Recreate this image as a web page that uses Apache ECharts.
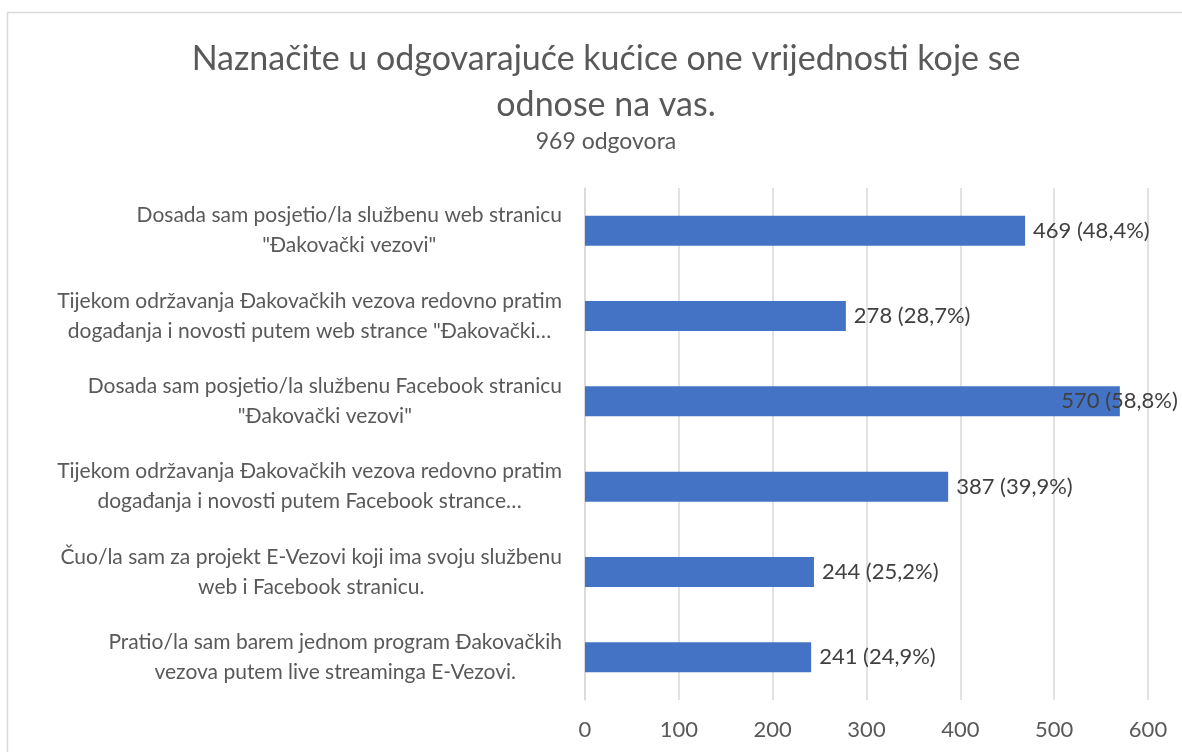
<!DOCTYPE html>
<html>
<head>
<meta charset="utf-8">
<script src="https://cdn.jsdelivr.net/npm/echarts@6/dist/echarts.min.js"></script>
<style>
  html, body { margin: 0; padding: 0; background: #fff; }
  #chart { width: 1182px; height: 752px; }
</style>
</head>
<body>
<div id="chart"></div>
<script>
// odgovori, odozgo prema dolje
const categories = [
    'Dosada sam posjetio/la službenu web stranicu\n"Đakovački vezovi"',
    'Tijekom održavanja Đakovačkih vezova redovno pratim\ndogađanja i novosti putem web strance "Đakovački…',
    'Dosada sam posjetio/la službenu Facebook stranicu\n"Đakovački vezovi"',
    'Tijekom održavanja Đakovačkih vezova redovno pratim\ndogađanja i novosti putem Facebook strance…',
    'Čuo/la sam za projekt E-Vezovi koji ima svoju službenu\nweb i Facebook stranicu.',
    'Pratio/la sam barem jednom program Đakovačkih\nvezova putem live streaminga E-Vezovi.'
];
const counts = [469, 278, 570, 387, 244, 241];
const percents = ['48,4%', '28,7%', '58,8%', '39,9%', '25,2%', '24,9%'];
const xTicks = [0, 100, 200, 300, 400, 500, 600];

const font = 'Lato, "Noto Sans", sans-serif';
const chart = echarts.init(document.getElementById('chart'));

// najduži stupac - oznaka ne stane desno pa ulazi u stupac
const barData = counts.map((v, i) => i === 2
    ? { value: v, label: { position: 'insideRight', distance: -58 } }
    : v);

const option = {
    backgroundColor: '#fff',
    animation: false,
    title: {
        text: 'Naznačite u odgovarajuće kućice one vrijednosti koje se\nodnose na vas.',
        subtext: '969 odgovora',
        left: 601,
        top: 31,
        textAlign: 'center',
        itemGap: 2,
        textStyle: { fontFamily: font, fontSize: 34, fontWeight: 'normal', color: '#595959', lineHeight: 46 },
        subtextStyle: { fontFamily: font, fontSize: 23, color: '#595959', lineHeight: 24 }
    },
    graphic: [{
        type: 'rect',
        shape: { x: 7.5, y: 12.5, width: 1200, height: 800 },
        style: { fill: 'none', stroke: '#d9d9d9', lineWidth: 1.5 },
        silent: true
    }],
    grid: { left: 585, right: 34, top: 188, bottom: 52, containLabel: false },
    xAxis: {
        type: 'value',
        min: 0,
        max: 600,
        interval: 100,
        axisLine: { show: false },
        axisTick: { show: false },
        splitLine: { lineStyle: { color: '#d9d9d9', width: 1.5 } },
        axisLabel: {
            margin: 19,
            fontFamily: font,
            fontSize: 22,
            color: '#595959',
            formatter: v => xTicks.includes(v) ? String(v) : ''
        }
    },
    yAxis: {
        type: 'category',
        inverse: true,
        data: categories,
        axisLine: { show: true, lineStyle: { color: '#d9d9d9', width: 1.5 } },
        axisTick: { show: false },
        axisLabel: {
            align: 'right',
            margin: 23,
            fontFamily: font,
            fontSize: 21,
            lineHeight: 30,
            color: '#595959',
            formatter: v => v.split('\n').map(s => '{c|' + s + '}').join('\n'),
            rich: {
                c: { align: 'center', fontFamily: font, fontSize: 21, lineHeight: 30, color: '#595959' }
            }
        }
    },
    series: [{
        type: 'bar',
        data: barData,
        barWidth: 30,
        itemStyle: { color: '#4472C4' },
        label: {
            show: true,
            position: 'right',
            distance: 8,
            fontFamily: font,
            fontSize: 22,
            color: '#404040',
            formatter: p => counts[p.dataIndex] + ' (' + percents[p.dataIndex] + ')'
        }
    }]
};

chart.setOption(option);
</script>
</body>
</html>
